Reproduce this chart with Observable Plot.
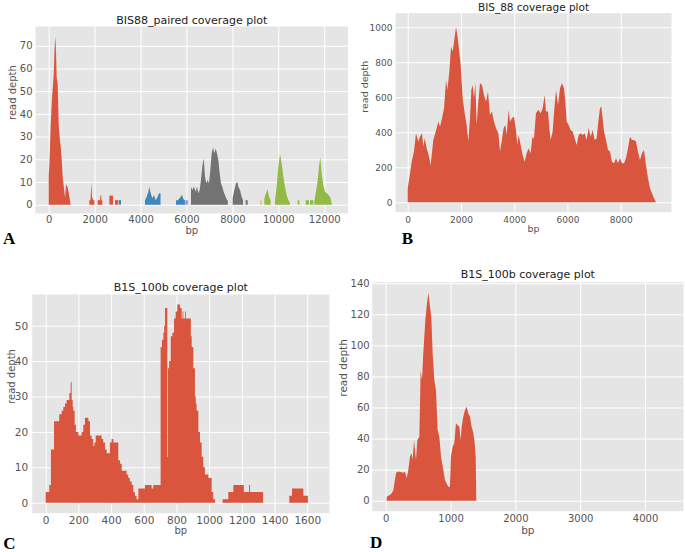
<!DOCTYPE html>
<html><head><meta charset="utf-8">
<script src="https://cdn.jsdelivr.net/npm/d3@7"></script>
<script src="https://cdn.jsdelivr.net/npm/@observablehq/plot@0.6"></script>
<style>
body{margin:0;background:#fff;}
#wrap{position:relative;width:685px;height:552px;overflow:hidden;background:#fff;}
.panel{position:absolute;}
.lab{position:absolute;font-family:"Liberation Serif",serif;font-weight:bold;font-size:17px;line-height:12px;color:#000;}
</style></head><body><div id="wrap"></div>
<script>
// ---------- Panel A: BIS88_paired (segments of [bp, depth]) ----------
const aRed = [
  [[0,13],[29,17.5],[87,35],[145,47],[174,51],[218,57],[261,70],[290,74],[319,67],[348,56],[392,53],[435,35],[493,28],[522,26],[566,20],[610,12],[668,7],[711,3],[755,9],[813,8],[856,6],[900,3.5],[958,0]],
  [[1770,2],[1820,2],[1840,6],[1860,10],[1880,4],[1900,3],[1940,2],[1987,2]],
  [[2133,2],[2240,2],[2250,4],[2290,4],[2300,2],[2336,2]],
  [[2642,4],[2802,4]],
  [[2888,2],[3033,2]]
];
const aBlue = [
  [[3062,2],[3150,2]],
  [[4194,2],[4267,3.5],[4339,5.7],[4383,7.9],[4441,5],[4514,2.8],[4586,4.3],[4659,2],[4746,3.5],[4804,5],[4870,5]],
  [[5545,2],[5630,2],[5700,3],[5760,3.5],[5800,4.5],[5850,3],[5900,2],[5940,2]]
];
const aPurple = [
  [[5960,2],[6060,2]]
];
const aGray = [
  [[6197,7.9],[6255,6.5],[6328,7.9],[6400,5.7],[6459,7.9],[6517,5],[6575,6.5],[6633,10.9],[6691,16.8],[6749,20.4],[6807,12.3],[6865,9.4],[6923,10.9],[6981,9.4],[7040,15.3],[7098,22.6],[7156,25.3],[7214,22.6],[7272,24.8],[7330,22.6],[7388,19.7],[7446,13.8],[7504,9.4],[7562,7.9],[7620,5.7],[7678,4.3],[7766,2],[7800,2]],
  [[8012,2.8],[8085,6.5],[8158,9.4],[8216,10.1],[8259,7.9],[8332,6.5],[8404,3.5],[8462,2]],
  [[8579,2],[8666,2]]
];
const aYellow = [
  [[9218,2],[9276,2]]
];
const aGreen = [
  [[9392,2.8],[9464,5],[9537,6.8],[9595,3.5],[9667,2]],
  [[9856,2],[9929,7.9],[10001,16.7],[10074,22.3],[10146,18.2],[10219,12.3],[10291,7.9],[10364,4.3],[10437,2],[10509,1]],
  [[10843,2],[10916,2]],
  [[11191,2],[11336,2]],
  [[11380,2],[11525,2]],
  [[11569,1.3],[11627,5],[11700,9.4],[11772,16.7],[11830,20.9],[11888,13.8],[11960,8.7],[12033,5.7],[12149,4.7],[12251,3.5],[12323,1]]
];
const aXTicks = [0,2000,4000,6000,8000,10000,12000];
const aYTicks = [0,10,20,30,40,50,60,70];

// ---------- Panel B: BIS_88 ----------
const bBp =    [0,60,150,236,311,400,460,538,587,637,712,787,862,963,1088,1150,1213,1288,1365,1440,1490,1565,1628,1690,1752,1814,1864,1914,1990,2064,2150,2214,2275,2340,2390,2440,2490,2540,2590,2653,2715,2790,2865,2940,3015,3090,3166,3240,3317,3404,3467,3530,3600,3667,3717,3792,3842,3917,3992,4067,4117,4167,4242,4317,4392,4467,4542,4617,4680,4743,4818,4906,4994,5069,5144,5194,5269,5319,5369,5444,5520,5570,5645,5720,5795,5870,5920,5970,6045,6120,6195,6270,6346,6421,6496,6571,6646,6721,6796,6871,6947,7022,7097,7160,7222,7272,7322,7373,7448,7523,7598,7673,7748,7823,7898,7973,8048,8124,8199,8274,8349,8424,8499,8574,8649,8724,8800,8875,8950,9025,9100,9175,9250,9326];
const bDepth = [80,137,232,290,394,347,375,394,318,366,309,270,213,356,423,461,432,480,537,699,642,747,890,861,928,1000,956,890,785,594,499,442,347,480,642,670,594,680,442,575,680,670,613,575,632,499,518,461,423,394,290,347,423,442,385,528,461,480,490,413,328,385,328,270,232,280,309,280,370,366,509,528,509,537,613,518,518,423,356,404,556,642,556,651,680,651,575,461,442,413,404,366,328,385,394,385,394,356,423,375,413,356,366,461,537,547,480,404,356,299,290,232,223,251,223,251,223,223,251,309,375,356,356,347,290,242,280,299,213,137,80,51,23,0];
const bXTicks = [0,2000,4000,6000,8000];
const bYTicks = [0,200,400,600,800,1000];

// ---------- Panel C: B1S_100b (step coverage) ----------
const cBlock1 = [[0,3],[22,5],[32,15],[43,15],[51,23],[83,25],[98,26],[108,27],[118,28],[128,29],[145,31],[153,34],[159,29],[165,27],[169,26],[177,22],[185,20],[200,19],[210,19],[220,20],[230,22],[240,24],[256,24],[261,23],[271,19],[281,18],[291,16],[298,17],[306,19],[335,19],[342,18],[352,17],[363,15],[373,14],[383,14],[393,17],[403,18],[414,17],[434,17],[444,12],[455,11],[465,9],[485,9],[495,8],[505,7],[515,6],[526,5],[536,3],[546,2],[556,1],[567,4],[597,4],[607,5],[648,4],[658,5],[699,5],[703,44],[711,46],[720,48],[725,50],[730,55],[740,55],[744,13],[748,38],[755,40],[765,47],[775,48],[785,52],[795,54],[805,56],[815,56],[822,55],[832,52],[837,54],[842,52],[852,54],[857,52],[882,52],[888,47],[893,44],[903,38],[913,30],[918,28],[923,26],[934,20],[944,17],[954,13],[964,10],[974,8],[985,8],[995,7],[1005,7],[1015,3],[1025,1],[1036,1]];
const cBlock2 = [[1082,1],[1117,3],[1148,5],[1212,3],[1244,5],[1250,3],[1330,3]];
const cBlock3 = [[1490,2],[1507,4],[1576,2],[1604,2]];
const cXTicks = [0,200,400,600,800,1000,1200,1400,1600];
const cYTicks = [0,10,20,30,40,50];

// ---------- Panel D: B1S_100b ----------
const dBp =    [15,40,92,118,133,159,179,220,272,298,323,349,375,400,416,437,467,488,519,539,560,580,611,632,658,683,704,724,750,776,801,827,853,889,914,940,966,991,1007,1033,1058,1084,1105,1136,1156,1172,1197,1223,1249,1274,1300,1326,1352,1373,1388,1398];
const dDepth = [2.6,3,4.7,6.9,11,17.6,18.7,18.7,18,18.7,14.4,19.8,28.4,30.5,26.2,39,26.2,39,41.2,84,77.7,94.9,116,125,134,125,118,94.9,77.7,71,45.5,41.2,28.4,19.8,13.3,11,9,9,28.4,34.8,37,49.8,48.7,47.6,39,47.6,54,58.4,60.5,56.2,54,47.6,43.4,37,28.4,0];
const dXTicks = [0,1000,2000,3000,4000];
const dYTicks = [0,20,40,60,80,100,120,140];

// ---------- helpers ----------
const RED = "#D9553D", BLUE = "#3E87BC", PURPLE = "#988ED5", GRAY = "#737373", YELLOW = "#F2B45A", GREEN = "#92BA46";
const segRows = (segs) => segs.flatMap((s, i) => s.map(([bp, depth]) => ({bp, depth, seg: i})));
const pairRows = (xs, ys) => xs.map((bp, i) => ({bp, depth: ys[i]}));

function panel(o) {
  const chart = Plot.plot({
    width: o.width, height: o.height,
    marginLeft: o.mL, marginRight: o.mR, marginTop: o.mT, marginBottom: o.mB,
    x: {domain: o.xDom, axis: null},
    y: {domain: o.yDom, axis: null},
    style: {background: "none", fontFamily: "DejaVu Sans", overflow: "visible"},
    marks: [
      Plot.frame({fill: "#E5E5E5", stroke: "none"}),
      Plot.gridX(o.xTicks, {stroke: "white", strokeOpacity: 1, strokeWidth: 1}),
      Plot.gridY(o.yTicks, {stroke: "white", strokeOpacity: 1, strokeWidth: 1}),
      ...o.marks,
      Plot.axisX(o.xTicks, {tickSize: 0, tickPadding: o.xPad, fontSize: o.tickFont, fill: "#555", tickFormat: "d", label: null}),
      Plot.axisY(o.yTicks, {tickSize: 0, tickPadding: o.yPad, fontSize: o.tickFont, fill: "#555", tickFormat: "d", label: null}),
      Plot.text([o.title], {text: d => d, frameAnchor: "top", dy: o.titleDy, lineAnchor: "middle", fontSize: o.titleFont, fill: "#222"}),
      Plot.text(["bp"], {text: d => d, frameAnchor: "bottom", dy: o.xLabDy, lineAnchor: "middle", fontSize: o.labelFont, fill: "#555"}),
      Plot.text(["read depth"], {text: d => d, frameAnchor: "left", dx: o.yLabDx, rotate: -90, lineAnchor: "middle", fontSize: o.labelFont, fill: "#555"})
    ]
  });
  const div = document.createElement("div");
  div.className = "panel";
  div.style.left = o.left + "px";
  div.style.top = o.top + "px";
  div.appendChild(chart);
  document.getElementById("wrap").appendChild(div);
}

const areaOpts = (fill, extra = {}) => Object.assign({x: "bp", y: "depth", z: "seg", fill, curve: "linear"}, extra);

panel({
  left: 0, top: 0, width: 350, height: 252, mL: 35, mR: 2.5, mT: 26, mB: 39,
  xDom: [-597, 13014], yDom: [-3.66, 78.7], xTicks: aXTicks, yTicks: aYTicks,
  tickFont: 10, titleFont: 11, labelFont: 10, xPad: 2.5, yPad: 3,
  titleDy: -6, xLabDy: 17.5, yLabDx: -22.7, title: "BIS88_paired coverage plot",
  marks: [
    Plot.areaY(segRows(aRed), areaOpts(RED)),
    Plot.areaY(segRows(aBlue), areaOpts(BLUE)),
    Plot.areaY(segRows(aPurple), areaOpts(PURPLE)),
    Plot.areaY(segRows(aGray), areaOpts(GRAY)),
    Plot.areaY(segRows(aYellow), areaOpts(YELLOW)),
    Plot.areaY(segRows(aGreen), areaOpts(GREEN))
  ]
});

panel({
  left: 350, top: 0, width: 335, height: 252, mL: 45, mR: 14, mT: 12.7, mB: 40.3,
  xDom: [-477, 9889], yDom: [-53.7, 1083], xTicks: bXTicks, yTicks: bYTicks,
  tickFont: 9, titleFont: 10.5, labelFont: 9.5, xPad: 4, yPad: 3,
  titleDy: -6, xLabDy: 16.6, yLabDx: -31, title: "BIS_88 coverage plot",
  marks: [
    Plot.areaY(pairRows(bBp, bDepth), {x: "bp", y: "depth", fill: RED})
  ]
});

panel({
  left: 0, top: 262, width: 340, height: 290, mL: 31.7, mR: 11, mT: 32, mB: 39.3,
  xDom: [-85.6, 1733], yDom: [-2.82, 58.95], xTicks: cXTicks, yTicks: cYTicks,
  tickFont: 10.5, titleFont: 11, labelFont: 10, xPad: 3.6, yPad: 4,
  titleDy: -6.7, xLabDy: 18, yLabDx: -20, title: "B1S_100b coverage plot",
  marks: [
    Plot.areaY(segRows([cBlock1, cBlock2, cBlock3]), areaOpts(RED, {curve: "step-after"}))
  ]
});

panel({
  left: 330, top: 262, width: 355, height: 290, mL: 41.7, mR: 2, mT: 19.7, mB: 41.3,
  xDom: [-216, 4586], yDom: [-6.44, 141], xTicks: dXTicks, yTicks: dYTicks,
  tickFont: 10, titleFont: 11, labelFont: 10.5, xPad: 4, yPad: 2.5,
  titleDy: -7.7, xLabDy: 19.3, yLabDx: -28.4, title: "B1S_100b coverage plot",
  marks: [
    Plot.areaY(pairRows(dBp, dDepth), {x: "bp", y: "depth", fill: RED})
  ]
});

// panel letters
[["A", 3, 233.3], ["B", 401.7, 233.3], ["C", 3.3, 538.3], ["D", 370, 537.3]].forEach(([t, x, y]) => {
  const s = document.createElement("div");
  s.className = "lab";
  s.textContent = t;
  s.style.left = x + "px";
  s.style.top = y + "px";
  document.getElementById("wrap").appendChild(s);
});
</script>
</body></html>
